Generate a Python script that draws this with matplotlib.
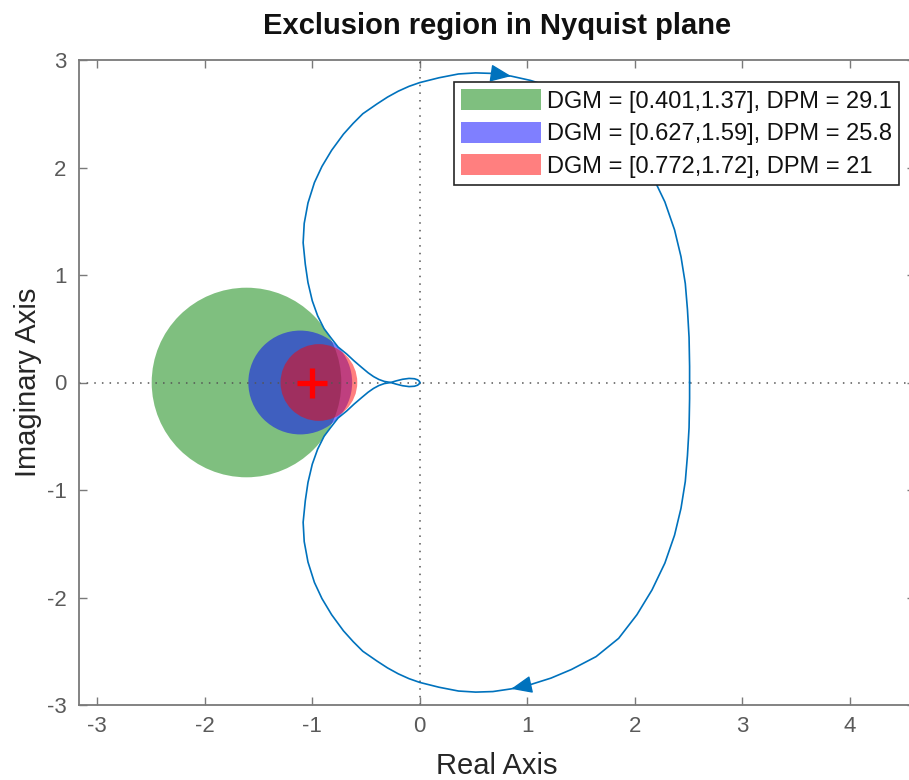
import matplotlib
matplotlib.use("Agg")
import matplotlib.pyplot as plt
from matplotlib.patches import Circle, Patch, FancyArrowPatch
import numpy as np

plt.rcParams['font.family'] = ['Liberation Sans', 'DejaVu Sans']
plt.rcParams['axes.unicode_minus'] = False

# ---- data ----
# gain margin intervals and phase margins of the three disk margins
dgm_low = [0.401, 0.627, 0.772]
dgm_high = [1.37, 1.59, 1.72]
dpm = [29.1, 25.8, 21]
disk_colors = ['#008000', '#0000ff', '#ff0000']

# Nyquist curve, positive-frequency branch (from the DC point to the origin)
nyq_re = [2.51, 2.51, 2.505, 2.49, 2.47, 2.43, 2.37, 2.28, 2.16, 2.02, 1.85, 1.64,
          1.41, 1.22, 1.03, 0.85, 0.68, 0.52, 0.36, 0.18, 0.00, -0.10, -0.20,
          -0.30, -0.40, -0.53, -0.62, -0.71, -0.82, -0.91, -0.98, -1.04, -1.075,
          -1.085, -1.065, -1.04, -1.00, -0.95, -0.89, -0.83, -0.76, -0.68, -0.61,
          -0.54, -0.48, -0.43, -0.38, -0.33, -0.27, -0.22, -0.16, -0.10, -0.05,
          -0.02, -0.005, 0.00]
nyq_im = [0.00, -0.15, -0.42, -0.68, -0.92, -1.17, -1.42, -1.68, -1.93, -2.16, -2.38, -2.55,
          -2.67, -2.75, -2.81, -2.85, -2.875, -2.88, -2.87, -2.835, -2.79, -2.755, -2.71,
          -2.655, -2.59, -2.50, -2.41, -2.31, -2.16, -2.01, -1.86, -1.67, -1.48,
          -1.30, -1.10, -0.93, -0.76, -0.62, -0.50, -0.42, -0.33, -0.265, -0.20,
          -0.14, -0.09, -0.055, -0.028, -0.01, 0.0, 0.015, 0.03, 0.038, 0.035,
          0.025, 0.012, 0.0]
arrow_index = 15  # sample where the direction arrows sit

critical_point = (-1, 0)

# ---- figure ----
W, H = 909, 780
fig = plt.figure(figsize=(W / 100, H / 100), dpi=100)
ax = fig.add_axes([79 / W, 1 - 705 / H, (915 - 79) / W, 645 / H])

xmin = -3.17
ax.set_ylim(-3, 3)
ax.set_xlim(xmin, xmin + 836 / (645 / 6))

curve_color = '#0072BD'

# exclusion disks
handles = []
for lo, hi, pm, col in zip(dgm_low, dgm_high, dpm, disk_colors):
    a, b = -1.0 / lo, -1.0 / hi
    c = (a + b) / 2
    r = abs(a - b) / 2
    ax.add_patch(Circle((c, 0), r, facecolor=col, alpha=0.5, edgecolor='none', zorder=1))
    handles.append(Patch(facecolor=col, alpha=0.5, edgecolor='none',
                         label=f'DGM = [{lo:g},{hi:g}], DPM = {pm:g}'))

# dotted axes lines
ax.axhline(0, color='#555555', lw=1.1, ls=(0, (1, 4)), zorder=2)
ax.axvline(0, color='#555555', lw=1.1, ls=(0, (1, 4)), zorder=2)

# Nyquist curve: positive and mirrored negative frequencies
re = np.array(nyq_re)
im = np.array(nyq_im)
ax.plot(re, im, color=curve_color, lw=1.2, zorder=3, solid_joinstyle='round')
ax.plot(re, -im, color=curve_color, lw=1.2, zorder=3, solid_joinstyle='round')

# arrows
i = arrow_index
style = '-|>,head_length=1.0,head_width=0.42'
ax.add_patch(FancyArrowPatch((re[i - 1], im[i - 1]), (re[i], im[i]), arrowstyle=style,
                             mutation_scale=13, color=curve_color, lw=1.0, zorder=4,
                             shrinkA=0, shrinkB=0))
ax.add_patch(FancyArrowPatch((re[i + 1], -im[i + 1]), (re[i], -im[i]), arrowstyle=style,
                             mutation_scale=13, color=curve_color, lw=1.0, zorder=4,
                             shrinkA=0, shrinkB=0))

# critical point
ax.plot([critical_point[0]], [critical_point[1]], marker='+', color='#ff0000',
        markersize=22, markeredgewidth=3.8, zorder=5)

# ticks / spines
ax.set_xticks(range(-3, 5))
ax.set_yticks(range(-3, 4))
ax.tick_params(direction='in', length=6, width=1.0, colors='#7a7a7a',
               labelcolor='#5a5a5a', labelsize=16, top=True, right=True)
ax.tick_params(axis='x', pad=8)
ax.tick_params(axis='y', pad=9)
for s in ax.spines.values():
    s.set_color('#7a7a7a')
    s.set_linewidth(1.3)

ax.set_xlabel('Real Axis', fontsize=21, color='#262626', labelpad=11)
ax.set_ylabel('Imaginary Axis', fontsize=21, color='#262626', labelpad=3)
ax.set_title('Exclusion region in Nyquist plane', fontsize=21, fontweight='bold',
             color='#111111', pad=19)

leg = ax.legend(handles=handles, loc='upper right',
                bbox_to_anchor=(899 / W, 1 - 82 / H), bbox_transform=fig.transFigure,
                borderaxespad=0, fontsize=17, handlelength=3.4, handleheight=1.0,
                handletextpad=0.25, labelspacing=0.38, borderpad=0.3,
                fancybox=False, framealpha=1, edgecolor='#262626')
leg.get_frame().set_linewidth(1.2)
for t in leg.get_texts():
    t.set_color('#111111')

fig.savefig('out.png', dpi=100)
